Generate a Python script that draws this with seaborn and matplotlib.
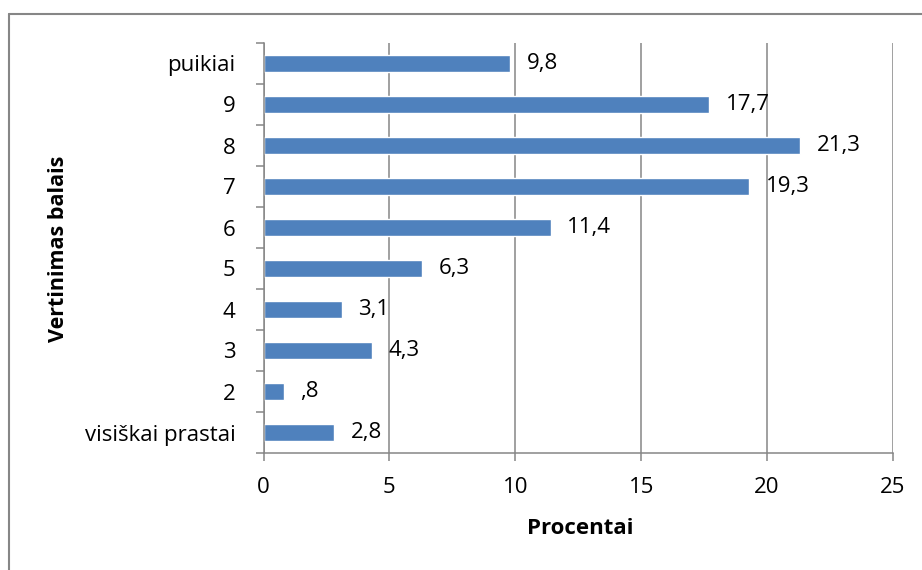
import matplotlib
matplotlib.use('Agg')
import matplotlib.pyplot as plt
from matplotlib.lines import Line2D
from matplotlib.ticker import FixedLocator, NullFormatter
import seaborn as sns
import pandas as pd

# duomenys (iš viršaus į apačią)
categories = ['puikiai', '9', '8', '7', '6', '5', '4', '3', '2', 'visiškai prastai']
values = [9.8, 17.7, 21.3, 19.3, 11.4, 6.3, 3.1, 4.3, 0.8, 2.8]
x_ticks = [0, 5, 10, 15, 20, 25]

bar_color = '#4F81BD'
line_color = '#868686'

sns.set_style('white')
plt.rcParams['font.family'] = ['Open Sans', 'DejaVu Sans']
plt.rcParams['text.color'] = 'black'
plt.rcParams['xtick.labelcolor'] = 'black'
plt.rcParams['ytick.labelcolor'] = 'black'

df = pd.DataFrame({'Vertinimas': categories, 'Procentai': values})

fig = plt.figure(figsize=(9.22, 5.70), dpi=100)
ax = fig.add_axes([263.5 / 922, 1 - 453 / 570, (893 - 263.5) / 922, (453 - 43) / 570])

sns.barplot(data=df, x='Procentai', y='Vertinimas', order=categories,
            color=bar_color, saturation=1, width=0.4, orient='h', ax=ax)

# SPSS stiliaus etiketės: kablelis, be nulio priekyje
labels = [f'{v:.1f}'.replace('.', ',').lstrip('0') for v in values]
ax.bar_label(ax.containers[0], labels=labels, padding=12, fontsize=16, color='black')

ax.set_xlim(0, 25)
ax.set_ylim(len(categories) - 0.5, -0.5)
ax.set_xticks(x_ticks)
ax.set_xticklabels([str(t) for t in x_ticks])

# y ašis: brūkšneliai tarp kategorijų, pavadinimai per vidurį
n = len(categories)
ax.yaxis.set_major_locator(FixedLocator([i - 0.5 for i in range(n + 1)]))
ax.yaxis.set_major_formatter(NullFormatter())
ax.yaxis.set_minor_locator(FixedLocator(list(range(n))))
ax.set_yticklabels(categories, minor=True)

ax.tick_params(axis='y', which='major', direction='out', length=6, width=1.1,
               color=line_color, left=True)
ax.tick_params(axis='y', which='minor', length=0, pad=20, labelsize=16,
               labelcolor='black')
ax.tick_params(axis='x', direction='out', length=6, width=1.1, color=line_color,
               bottom=True, pad=11, labelsize=16, labelcolor='black')

ax.xaxis.grid(True, color=line_color, linewidth=1.1)
ax.yaxis.grid(False)
ax.set_axisbelow(True)

for side in ['top', 'right']:
    ax.spines[side].set_visible(False)
for side in ['left', 'bottom']:
    ax.spines[side].set_color(line_color)
    ax.spines[side].set_linewidth(1.1)

ax.set_xlabel('')
ax.set_ylabel('')
fig.text(580 / 922, 1 - 528 / 570, 'Procentai', ha='center', va='center',
         fontsize=16, fontweight='bold', color='black')
fig.text(59 / 922, 1 - 249 / 570, 'Vertinimas balais', ha='center', va='center',
         rotation=90, fontsize=15.5, fontweight='bold', color='black')

# diagramos rėmelis (matosi tik viršus ir kairė)
fig.add_artist(Line2D([8.5 / 922, 1], [1 - 14 / 570, 1 - 14 / 570],
                      transform=fig.transFigure, color=line_color, linewidth=1.5))
fig.add_artist(Line2D([8.5 / 922, 8.5 / 922], [0, 1 - 14 / 570],
                      transform=fig.transFigure, color=line_color, linewidth=1.5))

fig.savefig('out.png', dpi=100)
plt.close(fig)
